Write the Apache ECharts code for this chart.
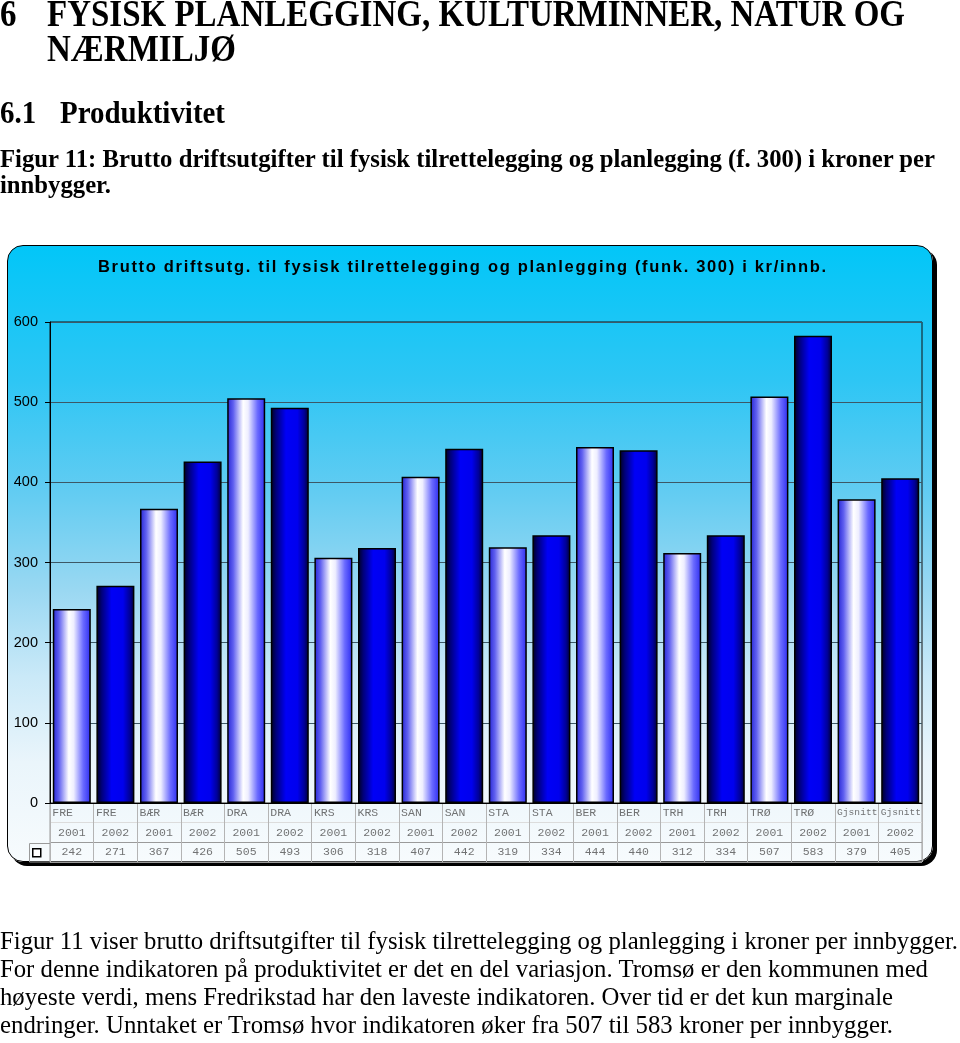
<!DOCTYPE html>
<html>
<head>
<meta charset="utf-8">
<script src="https://cdn.jsdelivr.net/npm/echarts@6/dist/echarts.min.js"></script>
<style>
  html, body { margin:0; padding:0; background:#fff; width:960px; height:1043px; overflow:hidden; }
  #panel { position:absolute; left:7px; top:245px; width:926px; height:617px; box-sizing:border-box;
    border:1.5px solid #000; border-radius:16px; box-shadow:4px 4px 0 #000;
    background:linear-gradient(to bottom, #02c6f8 0%, #2ec6f4 22%, #62ccf2 40%, #9ad8f2 56%, #cae9f8 70%, #eaf5fb 84%, #f7fbfd 100%); }
  #chart { position:absolute; left:0; top:0; width:960px; height:1043px; z-index:2; }
  .t { position:absolute; white-space:nowrap; line-height:1; transform-origin:0 0; z-index:3; color:#000; }
  .serif { font-family:"Liberation Serif", "Times New Roman", serif; }
  .sans { font-family:"Liberation Sans", Arial, sans-serif; }
</style>
</head>
<body>
<div id="panel"></div>
<div id="chart"></div>
<div id="texts"></div>
<script>
// ---- data ----
const categories = ['FRE','FRE','BÆR','BÆR','DRA','DRA','KRS','KRS','SAN','SAN','STA','STA','BER','BER','TRH','TRH','TRØ','TRØ','Gjsnitt','Gjsnitt'];
const years = ['2001','2002','2001','2002','2001','2002','2001','2002','2001','2002','2001','2002','2001','2002','2001','2002','2001','2002','2001','2002'];
const values = [242,271,367,426,505,493,306,318,407,442,319,334,444,440,312,334,507,583,379,405];
const yMin = 0, yMax = 600, yStep = 100;
const seriesName = 'Brutto driftsutg. (funk. 300) i kr/innb.';
const chartTitle = 'Brutto driftsutg. til fysisk tilrettelegging og planlegging (funk. 300) i kr/innb.';

// ---- page text (layout) ----
const texts = [
  {s:'6', x:0, b:26, fs:37, w:null, cls:'serif', bold:true},
  {s:'FYSISK PLANLEGGING, KULTURMINNER, NATUR OG', x:47, b:26, fs:37, w:858, cls:'serif', bold:true},
  {s:'NÆRMILJØ', x:47, b:61, fs:37, w:null, cls:'serif', bold:true},
  {s:'6.1', x:0, b:123, fs:31, w:null, cls:'serif', bold:true, scaleLike:4},
  {s:'Produktivitet', x:60, b:123, fs:31, w:165, cls:'serif', bold:true},
  {s:'Figur 11: Brutto driftsutgifter til fysisk tilrettelegging og planlegging (f. 300) i kroner per', x:0, b:167, fs:25, w:935, cls:'serif', bold:true},
  {s:'innbygger.', x:0, b:193, fs:25, w:null, cls:'serif', bold:true, scaleLike:5},
  {s:'Figur 11 viser brutto driftsutgifter til fysisk tilrettelegging og planlegging i kroner per innbygger.', x:0, b:950, fs:24.5, w:958, cls:'serif'},
  {s:'For denne indikatoren på produktivitet er det en del variasjon. Tromsø er den kommunen med', x:0, b:978, fs:24.5, w:928, cls:'serif'},
  {s:'høyeste verdi, mens Fredrikstad har den laveste indikatoren. Over tid er det kun marginale', x:0, b:1006, fs:24.5, w:893, cls:'serif'},
  {s:'endringer. Unntaket er Tromsø hvor indikatoren øker fra 507 til 583 kroner per innbygger.', x:0, b:1034, fs:24.5, w:893, cls:'serif'},
  {s:chartTitle, x:98, b:272, fs:16.5, w:728, cls:'sans', bold:true, spacing:true}
];
const host = document.getElementById('texts');
const els = [];
texts.forEach(t => {
  const d = document.createElement('div');
  d.className = 't ' + t.cls;
  d.textContent = t.s;
  d.style.fontSize = t.fs + 'px';
  d.style.fontWeight = t.bold ? 'bold' : 'normal';
  const k = t.cls === 'serif' ? 0.8375 : 0.8465;
  d.style.left = t.x + 'px';
  d.style.top = (t.b - k * t.fs) + 'px';
  host.appendChild(d);
  els.push(d);
});
const scales = [];
texts.forEach((t, i) => {
  const d = els[i];
  const w = d.getBoundingClientRect().width;
  if (t.w) {
    if (t.spacing) {
      const n = t.s.length - 1;
      d.style.letterSpacing = ((t.w - w) / n) + 'px';
      scales.push(1);
    } else {
      const sc = t.w / w;
      d.style.transform = 'scaleX(' + sc + ')';
      scales.push(sc);
    }
  } else scales.push(null);
});
texts.forEach((t, i) => {
  if (!t.w) {
    const sc = t.scaleLike !== undefined ? scales[t.scaleLike] : scales[1];
    els[i].style.transform = 'scaleX(' + sc + ')';
  }
});

// ---- chart ----
const keys = categories.map((c, i) => c + ' ' + years[i]);
const grad2001 = {type:'linear', x:0, y:0, x2:1, y2:0, colorStops:[
  {offset:0, color:'#2424d4'}, {offset:0.16, color:'#6060f0'}, {offset:0.42, color:'#ffffff'},
  {offset:0.55, color:'#eeeeff'}, {offset:0.8, color:'#6a6aff'}, {offset:1, color:'#2c2cf0'}]};
const grad2002 = {type:'linear', x:0, y:0, x2:1, y2:0, colorStops:[
  {offset:0, color:'#00001e'}, {offset:0.14, color:'#00007a'}, {offset:0.4, color:'#0000f6'},
  {offset:0.7, color:'#0000ee'}, {offset:0.88, color:'#000098'}, {offset:1, color:'#000030'}]};

const barData = values.map((v, i) => ({value: v, itemStyle: {color: years[i] === '2001' ? grad2001 : grad2002}}));
const rowName = categories.map((c, i) => [keys[i], 'n', c]);
const rowYear = years.map((y, i) => [keys[i], 'y', y]);
const rowVal = values.map((v, i) => [keys[i], 'v', String(v)]);

const monoFont = '"Liberation Mono", "Courier New", monospace';
const mono = {show:true, position:'inside', fontFamily:monoFont, fontSize:11.5, color:'#505050',
  formatter: p => p.data[2]};
const nameLabel = {show:true, position:'inside', align:'left', offset:[-19.5, 0],
  formatter: p => p.data[2].length > 4 ? '{s|' + p.data[2] + '}' : '{n|' + p.data[2] + '}',
  rich:{
    n:{fontFamily:monoFont, fontSize:11.5, color:'#505050'},
    s:{fontFamily:monoFont, fontSize:9.6, color:'#505050'}
  }};
const scatterBase = {type:'scatter', xAxisIndex:1, yAxisIndex:1, symbolSize:1, silent:true,
  itemStyle:{color:'rgba(0,0,0,0)'}};

const chart = echarts.init(document.getElementById('chart'), null, {renderer:'canvas'});
chart.setOption({
  animation:false,
  backgroundColor:'transparent',
  grid:[
    {left:50, right:38, top:322, bottom:240, show:true, borderColor:'#111', borderWidth:1},
    {left:50, right:38, top:803, bottom:181, show:true, borderColor:'#9a9a9a', borderWidth:1}
  ],
  legend:{data:[seriesName], left:32, top:848, itemWidth:8, itemHeight:8, icon:'rect', selectedMode:false,
    padding:0, textStyle:{fontSize:1, lineHeight:1}, formatter:() => '',
    itemStyle:{color:'#fff', borderColor:'#000', borderWidth:1.5}},
  xAxis:[
    {type:'category', gridIndex:0, data:keys, axisLine:{lineStyle:{color:'#000', width:1}},
      axisTick:{show:false}, axisLabel:{show:false}},
    {type:'category', gridIndex:1, data:keys, axisLine:{show:false}, axisTick:{show:false}, axisLabel:{show:false},
      splitLine:{show:true, interval:0, lineStyle:{color:'#b4b4b4', width:1}}}
  ],
  yAxis:[
    {type:'value', gridIndex:0, min:yMin, max:yMax, interval:yStep,
      axisLine:{show:true, lineStyle:{color:'#000'}}, axisTick:{show:true, length:5, lineStyle:{color:'#000'}},
      axisLabel:{fontFamily:'"Liberation Sans", Arial, sans-serif', fontSize:14.5, color:'#000', margin:12},
      splitLine:{show:true, lineStyle:{color:'#3d5866', width:1}}},
    {type:'category', gridIndex:1, data:['n','y','v'], inverse:true, axisLine:{show:false}, axisTick:{show:false},
      axisLabel:{show:false}, splitLine:{show:true, lineStyle:{color:['#000','#dcdcdc','#9a9a9a','#9a9a9a']}}}
  ],
  graphic:[
    {type:'polyline', silent:true, shape:{points:[[50,843.5],[29.5,843.5],[29.5,862],[50,862]]},
      style:{stroke:'#9a9a9a', fill:null, lineWidth:1}, z:5}
  ],
  series:[
    {name:seriesName, type:'bar', xAxisIndex:0, yAxisIndex:0, data:barData, barWidth:38, silent:true,
      itemStyle:{borderColor:'#000', borderWidth:1.5}},
    Object.assign({}, scatterBase, {data:rowName, label:nameLabel}),
    Object.assign({}, scatterBase, {data:rowYear, label:mono}),
    Object.assign({}, scatterBase, {data:rowVal, label:mono})
  ]
});
</script>
</body>
</html>
